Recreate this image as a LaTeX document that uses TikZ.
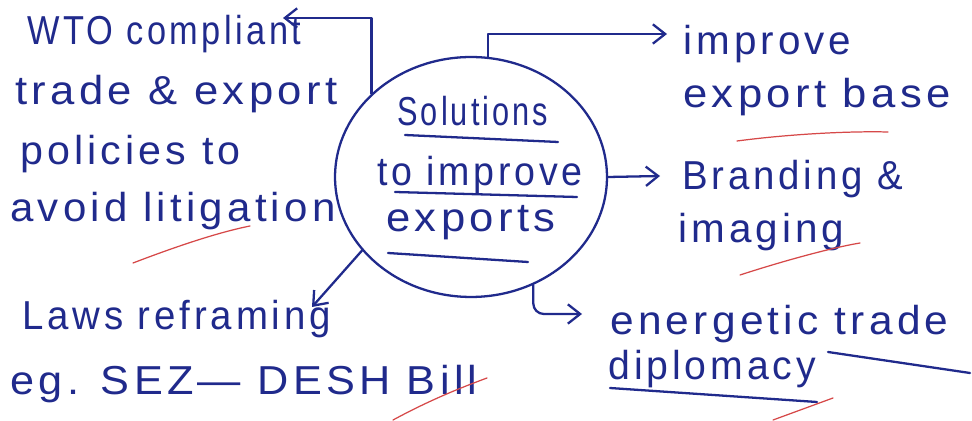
\documentclass[tikz,border=0pt]{standalone}
\usepackage{graphicx}
\usepackage{fontspec}
\setmainfont{Liberation Sans}[LetterSpace=10]
\usetikzlibrary{arrows.meta,shapes.geometric}
\definecolor{ink}{RGB}{32,42,140}
\definecolor{redink}{RGB}{214,72,72}
% horizontally stretched line of writing
\newcommand\wline[2]{\scalebox{#1}[1]{#2}}
\begin{document}
\begin{tikzpicture}[x=0.02cm,y=-0.02cm,
  ink line/.style={draw=ink,line width=1.3pt,line cap=round,line join=round},
  link/.style={ink line,-{Straight Barb[length=7pt,width=11pt,line width=1.3pt]}},
  mark line/.style={draw=redink,line width=0.7pt,line cap=round},
  hand/.style={text=ink,font=\fontsize{23}{26}\selectfont,inner sep=0pt,anchor=base west}]
\useasboundingbox (0,0) rectangle (972,421);
\fill[white] (0,0) rectangle (972,421);

% central topic
\node[ellipse,ink line,minimum width=5.44cm,minimum height=4.8cm,inner sep=0pt] (hub) at (471,177) {};
\node[hand] (s1) at (397,126) {\wline{0.76}{Solutions}};
\node[hand] (s2) at (377,186) {\wline{0.93}{to improve}};
\node[hand] (s3) at (386,232) {\wline{1.08}{exports}};
\draw[ink line] (405,135) -- (558,142);
\draw[ink line] (395,192) -- (577,197);
\draw[ink line] (388,253) -- (528,262);

% left branch: WTO
\node[hand] (w1) at (27,45) {\wline{0.85}{WTO compliant}};
\node[hand] (w2) at (15,105) {\wline{1.08}{trade \& export}};
\node[hand] (w3) at (20,165) {\wline{1.02}{policies to}};
\node[hand] (w4) at (10,222) {\wline{1.04}{avoid litigation}};
\coordinate (wtip) at (283,18);
\draw[link] (hub.140) |- (wtip);
\draw[mark line] (133,263) .. controls (180,245) and (220,232) .. (250,226);

% right branch: export base
\node[hand] (i1) at (683,55) {improve};
\node[hand] (i2) at (683,108) {\wline{1.08}{export base}};
\coordinate (itip) at (667,34);
\draw[link] (hub.82) |- (itip);
\draw[mark line] (737,141) .. controls (790,134) and (850,131) .. (888,132);

% right branch: branding
\node[hand] (b1) at (682,190) {\wline{0.95}{Branding \&}};
\node[hand] (b2) at (678,243) {imaging};
\coordinate (btip) at (660,176);
\draw[link] (hub.east) -- (btip);
\draw[mark line] (740,275) .. controls (780,262) and (830,248) .. (860,243);

% lower right branch: diplomacy
\node[hand] (e1) at (610,335) {\wline{1.05}{energetic trade}};
\node[hand] (e2) at (608,380) {\wline{0.97}{diplomacy}};
\coordinate (etip) at (582,314);
\draw[link,rounded corners=6pt] (hub.-60) |- (etip);
\draw[ink line] (828,352) -- (970,373);
\draw[ink line] (610,388) -- (817,402);
\draw[mark line] (773,420) -- (833,398);

% lower left branch: laws
\node[hand] (l1) at (22,330) {\wline{0.95}{Laws reframing}};
\node[hand] (l2) at (10,395) {\wline{1.07}{eg. SEZ— DESH Bill}};
\coordinate (ltip) at (312,307);
\draw[link] (hub.214) -- (ltip);
\draw[mark line] (393,420) .. controls (430,400) and (460,388) .. (487,378);
\end{tikzpicture}
\end{document}
